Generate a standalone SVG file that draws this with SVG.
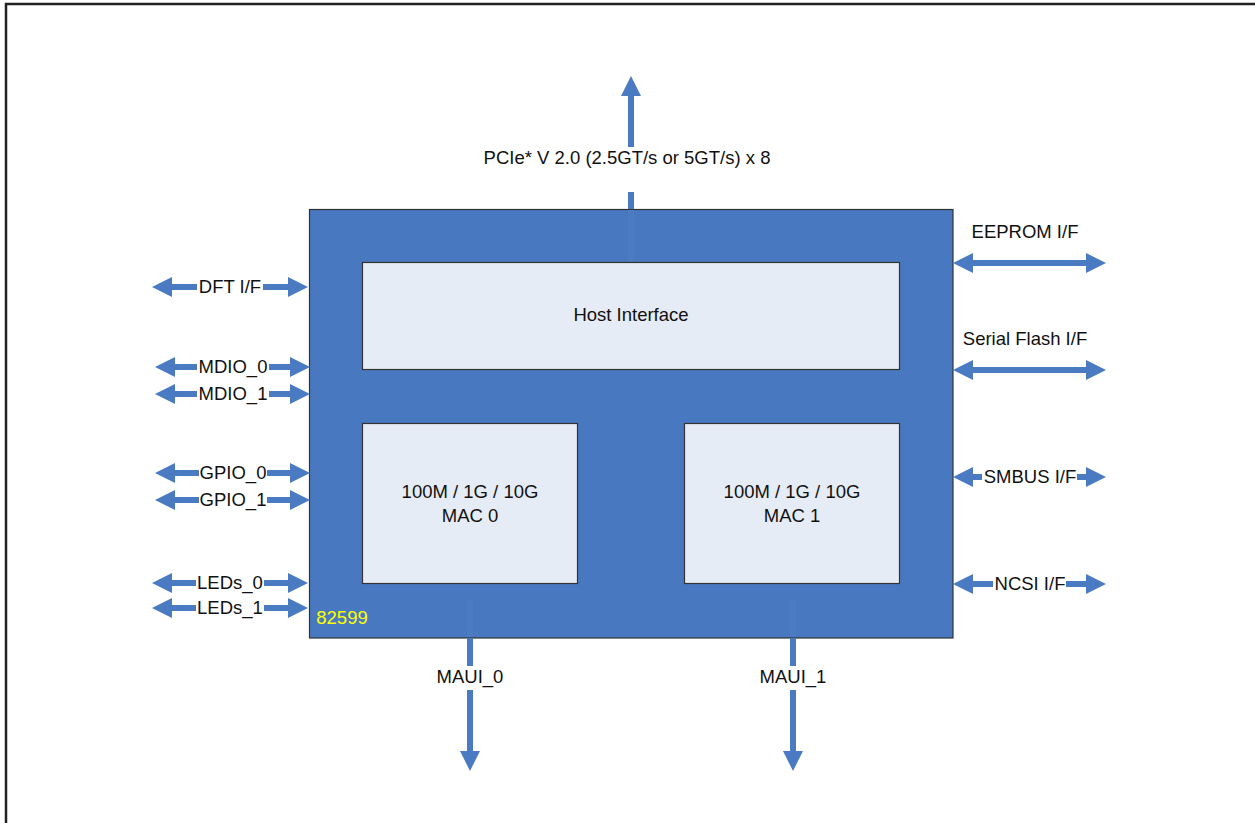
<svg xmlns="http://www.w3.org/2000/svg" width="1255" height="823" viewBox="0 0 1255 823">
<style>
  text { font-family: "Liberation Sans", Arial, sans-serif; font-size: 18.5px; fill: #111; text-anchor: middle; }
  .chip { fill: #4878BF; stroke: #333; stroke-width: 1.2; }
  .blk { fill: #E6ECF6; stroke: #333; stroke-width: 1.2; }
  .wire { stroke: #4A7BC2; stroke-width: 6; fill: none; }
  .faint { stroke: #4B7BC1; stroke-width: 6; fill: none; }
  .gap { fill: #fff; }
  .bi { marker-start: url(#ah); marker-end: url(#ah); }
  .uni { marker-end: url(#ah); }
</style>
<defs>
  <marker id="ah" markerUnits="userSpaceOnUse" viewBox="0 0 20 20" markerWidth="20" markerHeight="20" refX="5" refY="10" orient="auto-start-reverse">
    <path d="M0,0 L20,10 L0,20 Z" fill="#4A7BC2"/>
  </marker>
</defs>
<rect width="1255" height="823" fill="#fff"/>
<path d="M6,823 V4 H1255" fill="none" stroke="#222" stroke-width="2.5"/>

<g id="chip">
  <rect class="chip" x="309.5" y="209.5" width="643.5" height="428.5"/>
  <line class="faint" x1="631" y1="210" x2="631" y2="262"/>
  <line class="faint" x1="470" y1="600" x2="470" y2="637"/>
  <line class="faint" x1="793" y1="600" x2="793" y2="637"/>
  <text x="342" y="624" style="fill:#FFFF00;">82599</text>
</g>
<g id="host">
  <rect class="blk" x="362.5" y="262.5" width="537" height="107"/>
  <text x="631" y="321">Host Interface</text>
</g>
<g id="mac0">
  <rect class="blk" x="362.5" y="423.5" width="215" height="160"/>
  <text x="470" y="498">100M / 1G / 10G</text>
  <text x="470" y="522">MAC 0</text>
</g>
<g id="mac1">
  <rect class="blk" x="684.5" y="423.5" width="215" height="160"/>
  <text x="792" y="498">100M / 1G / 10G</text>
  <text x="792" y="522">MAC 1</text>
</g>

<g id="connectors">
  <line class="wire uni" x1="631" y1="209" x2="631" y2="91"/>
  <line class="wire bi" x1="167" y1="287" x2="293" y2="287"/>
  <line class="wire bi" x1="170" y1="367" x2="295" y2="367"/>
  <line class="wire bi" x1="170" y1="394" x2="295" y2="394"/>
  <line class="wire bi" x1="170" y1="473" x2="295" y2="473"/>
  <line class="wire bi" x1="170" y1="500" x2="295" y2="500"/>
  <line class="wire bi" x1="167" y1="583" x2="293" y2="583"/>
  <line class="wire bi" x1="167" y1="608" x2="293" y2="608"/>
  <line class="wire bi" x1="968" y1="263" x2="1091" y2="263"/>
  <line class="wire bi" x1="968" y1="370" x2="1091" y2="370"/>
  <line class="wire bi" x1="968" y1="477" x2="1091" y2="477"/>
  <line class="wire bi" x1="968" y1="584" x2="1091" y2="584"/>
  <line class="wire uni" x1="470" y1="638" x2="470" y2="756"/>
  <line class="wire uni" x1="793" y1="638" x2="793" y2="756"/>
</g>

<g id="labels">
  <rect class="gap" x="470" y="147" width="315" height="45"/>
  <text x="627" y="164">PCIe* V 2.0 (2.5GT/s or 5GT/s) x 8</text>

  <rect class="gap" x="197" y="278" width="66" height="18"/>
  <text x="230" y="293">DFT I/F</text>
  <rect class="gap" x="197" y="358" width="72" height="18"/>
  <text x="233" y="373">MDIO_0</text>
  <rect class="gap" x="197" y="385" width="72" height="18"/>
  <text x="233" y="400">MDIO_1</text>
  <rect class="gap" x="199" y="464" width="68" height="18"/>
  <text x="233" y="479">GPIO_0</text>
  <rect class="gap" x="199" y="491" width="68" height="18"/>
  <text x="233" y="506">GPIO_1</text>
  <rect class="gap" x="196" y="574" width="68" height="18"/>
  <text x="230" y="589">LEDs_0</text>
  <rect class="gap" x="196" y="599" width="68" height="18"/>
  <text x="230" y="614">LEDs_1</text>

  <text x="1025" y="238">EEPROM I/F</text>
  <text x="1025" y="345">Serial Flash I/F</text>
  <rect class="gap" x="982" y="468" width="95" height="18"/>
  <text x="1030" y="483">SMBUS I/F</text>
  <rect class="gap" x="993" y="575" width="73" height="18"/>
  <text x="1030" y="590">NCSI I/F</text>

  <rect class="gap" x="436" y="666" width="68" height="24"/>
  <text x="470" y="683">MAUI_0</text>
  <rect class="gap" x="759" y="666" width="68" height="24"/>
  <text x="793" y="683">MAUI_1</text>
</g>
</svg>
